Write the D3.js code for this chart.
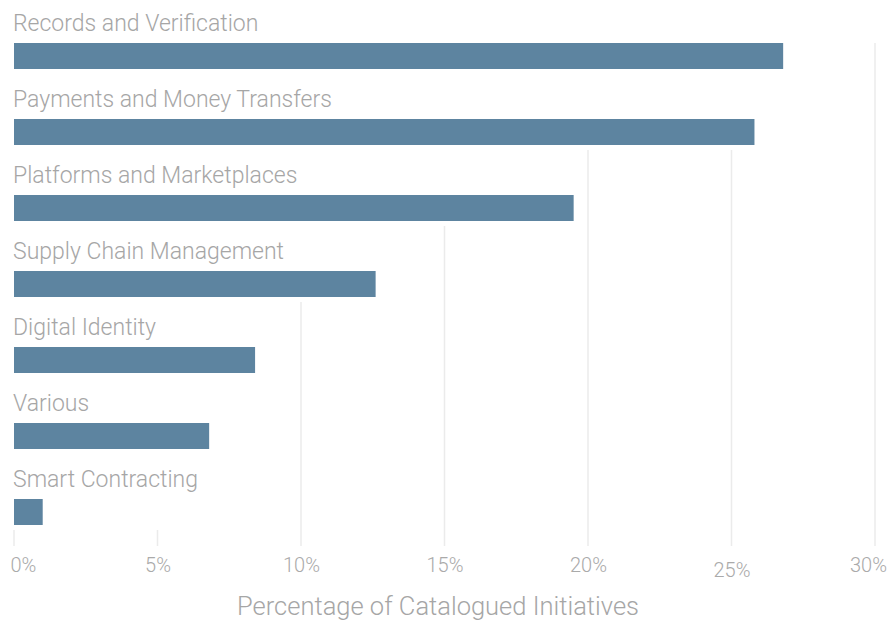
<!DOCTYPE html>
<html><head><meta charset="utf-8">
<script src="https://cdn.jsdelivr.net/npm/d3@7"></script>
<style>body{margin:0;background:#fff}svg{display:block}</style>
</head><body>
<svg id="c" width="896" height="622"></svg>
<script>
const categories = ["Records and Verification","Payments and Money Transfers","Platforms and Marketplaces","Supply Chain Management","Digital Identity","Various","Smart Contracting"];
const values = [26.8, 25.8, 19.5, 12.6, 8.4, 6.8, 1.0];
const tickValues = [0,5,10,15,20,25,30];
const tickLabels = ["0%","5%","10%","15%","20%","25%","30%"];
const axisTitle = "Percentage of Catalogued Initiatives";

const svg = d3.select("#c");
const FONT = "Roboto, 'Open Sans', sans-serif";
const x = d3.scaleLinear().domain([0,30]).range([14,875]);
const y = d3.scaleBand().domain(categories).range([-7,525]);
const barOff = 50, barH = 26, gridTop = 43, gridBottom = 546;

const gGrid = svg.append("g");
const rows = svg.append("g").selectAll("g").data(categories).join("g");
const labels = rows.append("text")
  .attr("x", 13).attr("y", d => y(d) + 38)
  .attr("font-family", FONT).attr("font-size", 23).attr("font-weight", 300)
  .attr("fill", "#a6a6a6").text(d => d);
rows.append("rect")
  .attr("x", x(0)).attr("y", d => y(d) + barOff)
  .attr("width", (d,i) => x(values[i]) - x(0)).attr("height", barH)
  .attr("fill", "#5d84a0");

const labelRight = labels.nodes().map(n => 13 + n.getComputedTextLength());
tickValues.forEach(t => {
  const tx = x(t);
  let start = gridTop;
  categories.forEach((c,i) => {
    const right = Math.max(x(values[i]), labelRight[i]);
    if (right > tx - 1) start = y(c) + barOff + barH + 5;
  });
  gGrid.append("line").attr("x1", tx).attr("x2", tx).attr("y1", start).attr("y2", gridBottom)
    .attr("stroke", "#ebebeb").attr("stroke-width", 1.5);
});

const axis = d3.axisBottom(x).tickValues(tickValues).tickSize(0).tickPadding(0)
  .tickFormat((d,i) => tickLabels[i]);
const gAxis = svg.append("g").attr("transform", "translate(0,572)").call(axis);
gAxis.select(".domain").remove();
gAxis.selectAll("text").attr("font-family", FONT).attr("font-size", 20).attr("font-weight", 300)
  .attr("fill", "#aaaaaa").attr("dy", (d) => d === 25 ? "5px" : "0")
  .attr("y", 0);
gAxis.selectAll(".tick").filter(d => d === 0).select("text").attr("text-anchor", "start").attr("x", -4);
gAxis.selectAll(".tick").filter(d => d === 30).select("text").attr("x", -7);

svg.append("text").attr("x", 438).attr("y", 615).attr("text-anchor", "middle")
  .attr("font-family", FONT).attr("font-size", 25.5).attr("font-weight", 300)
  .attr("fill", "#a6a6a6").text(axisTitle);
</script>
</body></html>
